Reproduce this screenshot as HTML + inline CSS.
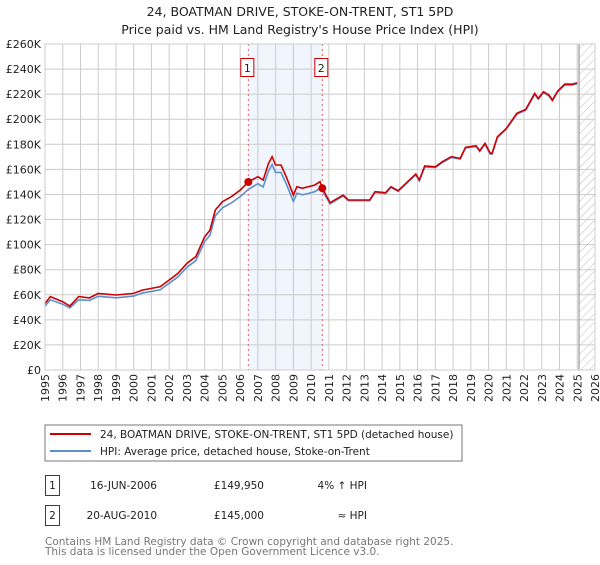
<!DOCTYPE html>
<html><head><meta charset="utf-8"><style>
body{margin:0;background:#fff;width:600px;height:560px;overflow:hidden}
svg{font-family:"DejaVu Sans","Liberation Sans",sans-serif}
</style></head><body>
<svg id="c" width="600" height="560" xmlns="http://www.w3.org/2000/svg">
<defs><pattern id="hatch" width="6" height="6" patternUnits="userSpaceOnUse" patternTransform="rotate(45)"><line x1="0" y1="0" x2="0" y2="6" stroke="#bbb" stroke-width="1"/></pattern></defs>
<text x="300" y="16" text-anchor="middle" font-size="12.5" fill="#222">24, BOATMAN DRIVE, STOKE-ON-TRENT, ST1 5PD</text>
<text x="300" y="34" text-anchor="middle" font-size="12.5" fill="#222">Price paid vs. HM Land Registry's House Price Index (HPI)</text>
<g id="plot"></g>
<rect x="45" y="425" width="417" height="36" fill="#fff" stroke="#777"/>
<line x1="50" y1="434" x2="91" y2="434" stroke="#cc0000" stroke-width="2"/>
<text x="100" y="438" font-size="10.5" fill="#222">24, BOATMAN DRIVE, STOKE-ON-TRENT, ST1 5PD (detached house)</text>
<line x1="50" y1="451" x2="91" y2="451" stroke="#5b8fd0" stroke-width="2"/>
<text x="100" y="455" font-size="10.5" fill="#222">HPI: Average price, detached house, Stoke-on-Trent</text>
<g font-size="10.5" fill="#222">
<rect x="45.5" y="475.5" width="14" height="20" fill="none" stroke="#c00"/>
<text x="52.5" y="489" text-anchor="middle">1</text>
<text x="157" y="489" text-anchor="end">16-JUN-2006</text>
<text x="264" y="489" text-anchor="end">£149,950</text>
<text x="367" y="489" text-anchor="end">4% ↑ HPI</text>
<rect x="45.5" y="505.5" width="14" height="20" fill="none" stroke="#c00"/>
<text x="52.5" y="519" text-anchor="middle">2</text>
<text x="157" y="519" text-anchor="end">20-AUG-2010</text>
<text x="264" y="519" text-anchor="end">£145,000</text>
<text x="367" y="519" text-anchor="end">≈ HPI</text>
</g>
<text x="45" y="545" font-size="10.5" fill="#777">Contains HM Land Registry data © Crown copyright and database right 2025.</text>
<text x="45" y="555" font-size="10.5" fill="#777">This data is licensed under the Open Government Licence v3.0.</text>
</svg>
<script>
const years=[1995.0,1995.3,1996.0,1996.4,1996.9,1997.5,1998.0,1999.0,2000.0,2000.5,2001.0,2001.5,2002.0,2002.5,2003.0,2003.5,2004.0,2004.3,2004.6,2005.0,2005.5,2006.0,2006.46,2007.0,2007.3,2007.6,2007.8,2008.0,2008.3,2008.6,2009.0,2009.2,2009.5,2009.8,2010.2,2010.5,2010.63,2011.07,2011.8,2012.1,2013.3,2013.6,2014.2,2014.5,2014.9,2015.5,2015.9,2016.1,2016.4,2017.0,2017.4,2017.9,2018.4,2018.7,2019.3,2019.5,2019.8,2020.1,2020.2,2020.5,2021.0,2021.6,2022.1,2022.6,2022.8,2023.1,2023.4,2023.6,2023.9,2024.3,2024.7,2025.0];
const propertyValues=[53,58.5,54.5,51,58.5,57.5,61,59.8,61.1,63.8,65.1,66.5,71.8,77.1,85,90.4,106.3,111.6,127.6,134.2,138.2,143.5,149.95,154.2,151.5,164.8,170.1,163.5,163.5,154,139.5,146.2,144.9,146,147.5,150.2,145,133.4,139.5,135.6,135.6,142.2,141.4,146.2,143,151,156.3,151.5,162.7,162.1,166.1,170.1,168.8,177.6,178.9,174.9,180.7,172.8,172.8,186,192.7,204.7,207.9,220.6,216.6,221.9,219.3,215.3,222.5,228,227.9,229];
const hpiValues=[51,56,52.5,49.5,56,55.5,58.8,57.6,58.9,61.5,62.7,64,69.2,74.3,82,87.2,102.5,107.6,123,129.4,133.2,138.3,144,148.6,146,158.8,163.9,157.6,157.6,148.4,134.5,141,139.7,140.7,142.2,144.8,143,132.5,138.8,135,135,141.6,140.8,145.6,142.4,150.4,155.7,150.9,162,161.5,165.5,169.5,168.2,177,178.3,174.3,180.1,172.2,172.2,185.4,192.1,204,207.2,219.9,215.9,221.2,218.6,214.6,221.8,227.3,227.2,228.3];
const yTicks=[0,20,40,60,80,100,120,140,160,180,200,220,240,260];
const yTickLabels=["£0","£20K","£40K","£60K","£80K","£100K","£120K","£140K","£160K","£180K","£200K","£220K","£240K","£260K"];
const xTicks=[1995,1996,1997,1998,1999,2000,2001,2002,2003,2004,2005,2006,2007,2008,2009,2010,2011,2012,2013,2014,2015,2016,2017,2018,2019,2020,2021,2022,2023,2024,2025,2026];
const saleYears=[2006.46,2010.63];
const salePrices=[149.95,145];
const saleLabels=["1","2"];
const X0=45,X1=595,Y0=370,Y1=44;
const xs=v=>X0+(v-1995)/(2026-1995)*(X1-X0);
const ys=v=>Y0-v/260*(Y0-Y1);
const NS="http://www.w3.org/2000/svg";
const g=document.getElementById('plot');
function mk(t,a){const e=document.createElementNS(NS,t);for(const k in a)e.setAttribute(k,a[k]);g.appendChild(e);return e;}
let e=mk('rect',{x:X0,y:Y1,width:X1-X0,height:Y0-Y1,fill:'#fff'});


e=mk('rect',{x:xs(saleYears[0]),y:Y1,width:xs(saleYears[1])-xs(saleYears[0]),height:Y0-Y1,fill:'#eef3fc',opacity:0.8});


const hx=xs(2025.1);
e=mk('rect',{x:hx,y:Y1,width:X1-hx,height:Y0-Y1,fill:'url(#hatch)'});


yTicks.forEach((t,i)=>{
 e=mk('line',{x1:X0,x2:X1,y1:ys(t),y2:ys(t),stroke:'#ccc','stroke-width':1});
 
 
 e=mk('text',{x:X0-4,y:ys(t)+4,'text-anchor':'end','font-size':11,fill:'#222'});
 e.textContent=yTickLabels[i];
 
 
});
xTicks.forEach(t=>{
 e=mk('line',{x1:xs(t),x2:xs(t),y1:Y1,y2:Y0,stroke:'#ccc','stroke-width':1});
 
 
 const tx=xs(t)+4, ty=Y0+4;
 e=mk('text',{x:tx,y:ty,'text-anchor':'end','font-size':11,fill:'#222',transform:'rotate(-90 '+tx+' '+ty+')'});
 e.textContent=t;
 
 
});
e=mk('line',{x1:hx,x2:hx,y1:Y1,y2:Y0,stroke:'#888','stroke-width':1});


saleYears.forEach((s,i)=>{
 e=mk('line',{x1:xs(s),x2:xs(s),y1:Y1,y2:Y0,stroke:'#e06060','stroke-width':1,'stroke-dasharray':'2,3'});
 
 
});
function path(vals){return vals.map((v,i)=>(i?'L':'M')+xs(years[i]).toFixed(1)+','+ys(v).toFixed(1)).join('');}
e=mk('path',{d:path(hpiValues),fill:'none',stroke:'#5b8fd0','stroke-width':1.6});


e=mk('path',{d:path(propertyValues),fill:'none',stroke:'#cc0000','stroke-width':1.6});


saleYears.forEach((s,i)=>{
 e=mk('circle',{cx:xs(s),cy:ys(salePrices[i]),r:4,fill:'#cc0000'});
 
 
 const bx=xs(s)-8;
 e=mk('rect',{x:bx+0.5,y:58.5,width:13,height:18,fill:'#fff',stroke:'#c00'});
 
 
 e=mk('text',{x:bx+7,y:72,'text-anchor':'middle','font-size':11,fill:'#222'});
 e.textContent=saleLabels[i];
 
 
});
e=mk('rect',{x:X0,y:Y1,width:X1-X0,height:Y0-Y1,fill:'none',stroke:'#ccc'});


</script>
</body></html>
